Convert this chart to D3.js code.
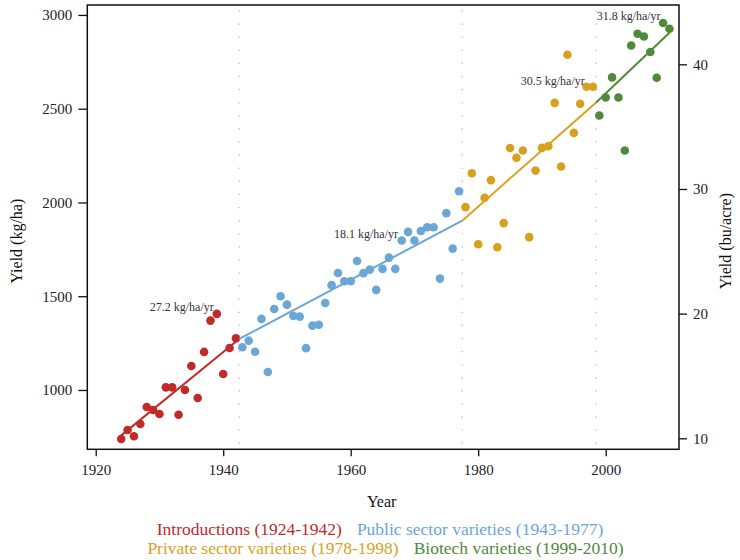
<!DOCTYPE html>
<html><head><meta charset="utf-8">
<script src="https://cdn.jsdelivr.net/npm/d3@7"></script>
<style>
body{margin:0;background:#fff}
svg{display:block}
text{font-family:"Liberation Serif","Times New Roman",serif}
</style>
</head><body><svg id="c" width="740" height="560"></svg>
<script>
// ---- data ----
const introYears = [1924,1925,1926,1927,1928,1929,1930,1931,1932,1933,1934,1935,1936,1937,1938,1939,1940,1941,1942];
const introYield = [739,787,753,819,909,893,872,1014,1014,868,1000,1128,957,1203,1370,1406,1085,1224,1276];

const publicYears = [1943,1944,1945,1946,1947,1948,1949,1950,1951,1952,1953,1954,1955,1956,1957,1958,1959,1960,1961,1962,1963,1964,1965,1966,1967,1968,1969,1970,1971,1972,1973,1974,1975,1976,1977];
const publicYield = [1228,1263,1204,1379,1096,1432,1500,1455,1395,1391,1223,1343,1348,1464,1559,1624,1580,1580,1688,1623,1642,1534,1646,1706,1646,1797,1843,1797,1848,1868,1868,1594,1943,1754,2060];

const privateYears = [1978,1979,1980,1981,1982,1983,1984,1985,1986,1987,1988,1989,1990,1991,1992,1993,1994,1995,1996,1997,1998];
const privateYield = [1975,2156,1777,2025,2119,1761,1890,2290,2238,2277,1815,2170,2291,2300,2531,2192,2788,2371,2526,2617,2617];

const biotechYears = [1999,2000,2001,2002,2003,2004,2005,2006,2007,2008,2009,2010];
const biotechYield = [2464,2560,2667,2560,2277,2837,2900,2885,2802,2665,2957,2926];

// piecewise trend (segment vertices) and era breaks
const trendYears = [1924,1942.5,1977.5,1998.5,2010];
const trendYield = [758,1272,1903,2533,2905];
const breakYears = [1942.5,1977.5,1998.5];

const rateLabels = ["27.2 kg/ha/yr","18.1 kg/ha/yr","30.5 kg/ha/yr","31.8 kg/ha/yr"];
const rateYears  = [1933.5,1962.4,1991.7,2003.6];
const rateYield  = [1420,1811,2627,2973];

const groupNames  = ["Introductions (1924-1942)","Public sector varieties (1943-1977)","Private sector varieties (1978-1998)","Biotech varieties (1999-2010)"];
const groupColors = ["#c22a2a","#6aa6d6","#d9a01e","#4f8a3a"];

const xTicks = [1920,1940,1960,1980,2000];
const yTicks = [1000,1500,2000,2500,3000];
const rTicks = [10,20,30,40];

// ---- layout ----
const L = 87.3, R = 679, T = 5, B = 449.3;
const svg = d3.select("#c");
const x = d3.scaleLinear().domain([1918.68, 2011.5]).range([L, R]);
const y = d3.scaleLinear().domain([683.7, 3053]).range([B, T]);
const yR = d3.scaleLinear().domain([9.118, 44.757]).range([B, T]);

// era dotted lines
svg.append("g").selectAll("line").data(breakYears).join("line")
  .attr("x1", d => x(d)).attr("x2", d => x(d))
  .attr("y1", T + 6).attr("y2", B)
  .attr("stroke", "#c4c4c4").attr("stroke-width", 1.6)
  .attr("stroke-linecap", "round")
  .attr("stroke-dasharray", "0.1,13");

// points
const groups = [
  [introYears, introYield],
  [publicYears, publicYield],
  [privateYears, privateYield],
  [biotechYears, biotechYield]
];
groups.forEach((g, i) => {
  const pts = g[0].map((yr, j) => [yr, g[1][j]]);
  svg.append("g").selectAll("circle").data(pts).join("circle")
    .attr("cx", d => x(d[0])).attr("cy", d => y(d[1])).attr("r", 4.3)
    .attr("fill", groupColors[i]);
});

// trend segments
const trendPts = trendYears.map((yr, j) => [yr, trendYield[j]]);
const line = d3.line().x(d => x(d[0])).y(d => y(d[1]));
for (let i = 0; i < trendPts.length - 1; i++) {
  svg.append("path").attr("d", line([trendPts[i], trendPts[i + 1]]))
    .attr("fill", "none").attr("stroke", groupColors[i]).attr("stroke-width", 2);
}

// rate labels
svg.append("g").selectAll("text").data(rateLabels).join("text")
  .attr("x", (d, i) => x(rateYears[i])).attr("y", (d, i) => y(rateYield[i]))
  .attr("text-anchor", "middle").attr("font-size", 12).attr("fill", "#333")
  .text(d => d);

// axes
function styleAxis(g) {
  g.select(".domain").remove();
  g.selectAll(".tick line").attr("stroke", "#111").attr("stroke-width", 1.3);
  g.selectAll(".tick text").attr("font-size", 15).attr("fill", "#222")
    .attr("font-family", '"Liberation Serif", serif');
}
svg.append("g").attr("transform", `translate(${L},0)`)
  .call(d3.axisLeft(y).tickValues(yTicks).tickSize(9).tickPadding(6).tickFormat(d3.format("d")))
  .call(styleAxis);
svg.append("g").attr("transform", `translate(0,${B})`)
  .call(d3.axisBottom(x).tickValues(xTicks).tickSize(7).tickPadding(8).tickFormat(d3.format("d")))
  .call(styleAxis);
svg.append("g").attr("transform", `translate(${R},0)`)
  .call(d3.axisRight(yR).tickValues(rTicks).tickSize(8).tickPadding(6).tickFormat(d3.format("d")))
  .call(styleAxis);

// frame
svg.append("rect").attr("x", L).attr("y", T).attr("width", R - L).attr("height", B - T)
  .attr("fill", "none").attr("stroke", "#111").attr("stroke-width", 1.5);

// axis titles
svg.append("text").attr("x", (L + R) / 2 - 1.5).attr("y", 507).attr("text-anchor", "middle")
  .attr("font-size", 16).attr("fill", "#111").text("Year");
svg.append("text").attr("transform", `translate(22,${(T + B) / 2 + 14}) rotate(-90)`)
  .attr("text-anchor", "middle").attr("font-size", 16).attr("fill", "#111").text("Yield (kg/ha)");
svg.append("text").attr("transform", `translate(731,${(T + B) / 2 + 14}) rotate(-90)`)
  .attr("text-anchor", "middle").attr("font-size", 16).attr("fill", "#111").text("Yield (bu/acre)");

// legend
const rows = [[0, 1], [2, 3]];
const rowY = [535, 554];
const rowCx = [380, 385.5];
const gap = 15;
rows.forEach((r, ri) => {
  const g = svg.append("g");
  const texts = r.map(k => g.append("text").attr("y", rowY[ri]).attr("font-size", 17.5)
    .attr("fill", groupColors[k]).text(groupNames[k]));
  const widths = texts.map(t => t.node().getComputedTextLength());
  const total = widths[0] + widths[1] + gap;
  let cx = rowCx[ri] - total / 2;
  texts.forEach((t, j) => { t.attr("x", cx); cx += widths[j] + gap; });
});
</script>
</body></html>
